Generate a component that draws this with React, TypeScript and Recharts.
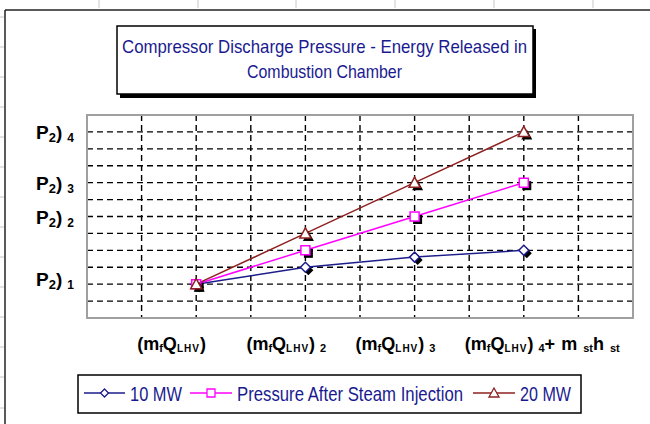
import React from "react";
import {
  LineChart,
  Line,
  XAxis,
  YAxis,
  CartesianGrid,
  ReferenceArea,
} from "recharts";

// ---- data ----
const xPositions = [2, 4, 6, 8];
const series10MW = [2, 3, 3.6, 4];
const seriesSteam = [2, 4, 6, 8];
const series20MW = [2, 5, 8, 11];

const xTickValues = [0, 1, 2, 3, 4, 5, 6, 7, 8, 9, 10];
const yTickValues = [0, 1, 2, 3, 4, 5, 6, 7, 8, 9, 10, 11, 12];

const xLabelSubs = ["", "2", "3", "4"];
const yLabelValues = [2, 6, 8, 11];
const yLabelSubs = ["1", "2", "3", "4"];

const titleLines = [
  "Compressor Discharge Pressure - Energy Released in",
  "Combustion Chamber",
];
const legendNames = ["10 MW", "Pressure After Steam Injection", "20 MW"];

const data = xPositions.map((x, i) => ({
  x,
  a: series10MW[i],
  b: seriesSteam[i],
  c: series20MW[i],
}));

const C_BLUE = "#1c1c8a";
const C_PINK = "#ff00ff";
const C_RED = "#8f2020";
const TEXT_BLUE = "#1a1a90";
const SANS = "'Liberation Sans', Arial, sans-serif";

type Shape = "diamond" | "square" | "triangle";

function shapePath(shape: Shape, cx: number, cy: number, r: number) {
  if (shape === "diamond")
    return `M${cx},${cy - r}L${cx + r},${cy}L${cx},${cy + r}L${cx - r},${cy}Z`;
  if (shape === "square")
    return `M${cx - r},${cy - r}L${cx + r},${cy - r}L${cx + r},${cy + r}L${cx - r},${cy + r}Z`;
  return `M${cx},${cy - r - 1}L${cx + r + 1},${cy + r}L${cx - r - 1},${cy + r}Z`;
}

const makeDot = (shape: Shape, color: string, r: number) => (props: any) => {
  const { cx, cy, index } = props;
  if (cx == null || cy == null) return <g key={index} />;
  return (
    <g key={`${shape}-${index}`}>
      <path d={shapePath(shape, cx + 3, cy + 3, r)} fill="#000" />
      <path d={shapePath(shape, cx, cy, r)} fill="#fff" stroke={color} strokeWidth={1.5} />
    </g>
  );
};

const renderXTick = (props: any) => {
  const { x, y, payload, index } = props;
  const idx = xPositions.indexOf(payload.value);
  if (idx < 0) return <g key={`xt${index}`} />;
  const sub = xLabelSubs[idx];
  return (
    <text
      key={`xt${index}`}
      x={x - 59}
      y={y + 24}
      textAnchor="start"
      fontFamily={SANS}
      fontWeight="bold"
      fontSize={18}
      fill="#000"
    >
      <tspan>(m</tspan>
      <tspan fontSize={11} dy={2}>f</tspan>
      <tspan dy={-2}>Q</tspan>
      <tspan fontSize={10} dy={2} letterSpacing={1}>LHV</tspan>
      <tspan dy={-2}>)</tspan>
      {sub ? (
        <tspan fontSize={11} dx={5} dy={2}>{sub}</tspan>
      ) : null}
      {idx === 3 ? (
        <>
          <tspan dy={-2}>+</tspan>
          <tspan dx={6}>m</tspan>
          <tspan fontSize={11} dx={6} dy={2}>st</tspan>
          <tspan dy={-2}>h</tspan>
          <tspan fontSize={11} dx={6} dy={2}>st</tspan>
        </>
      ) : null}
    </text>
  );
};

const renderYTick = (props: any) => {
  const { x, y, payload, index } = props;
  const idx = yLabelValues.indexOf(payload.value);
  if (idx < 0) return <g key={`yt${index}`} />;
  const shift = idx === 0 ? -5 : 0;
  return (
    <text
      key={`yt${index}`}
      x={x - 5}
      y={y + 7 + shift}
      textAnchor="end"
      fontFamily={SANS}
      fontWeight="bold"
      fontSize={19}
      fill="#000"
    >
      <tspan>P</tspan>
      <tspan fontSize={13} dy={3}>2</tspan>
      <tspan dy={-3}>)</tspan>
      <tspan fontSize={12} dx={5} dy={3}>{yLabelSubs[idx]}</tspan>
    </text>
  );
};

const Overlay = () => {
  const topTicks = [99, 198, 296, 395, 494, 593];
  const leftTicks = [17, 47, 77, 107, 137, 167, 197, 227, 257, 287, 317, 347, 377, 408];
  const legendItems: { shape: Shape; color: string; x1: number; x2: number; tx: number; tw: number }[] = [
    { shape: "diamond", color: C_BLUE, x1: 84, x2: 125, tx: 130, tw: 52 },
    { shape: "square", color: C_PINK, x1: 190, x2: 232, tx: 237, tw: 226 },
    { shape: "triangle", color: C_RED, x1: 473, x2: 515, tx: 520, tw: 51 },
  ];
  return (
    <svg
      width={650}
      height={424}
      style={{ position: "absolute", left: 0, top: 0, pointerEvents: "none" }}
    >
      {topTicks.map((t) => (
        <line key={`t${t}`} x1={t} x2={t} y1={0} y2={8} stroke="#c8c8c8" strokeWidth={1} />
      ))}
      {leftTicks.map((t) => (
        <line key={`l${t}`} x1={0} x2={4} y1={t} y2={t} stroke="#c8c8c8" strokeWidth={1} />
      ))}
      <line x1={5} x2={650} y1={10} y2={10} stroke="#222" strokeWidth={1.5} />
      <line x1={5} x2={5} y1={10} y2={424} stroke="#222" strokeWidth={1.5} />

      {/* title box */}
      <rect x={120} y={29} width={416} height={69} fill="#000" />
      <rect x={117} y={26} width={416} height={68} fill="#fff" stroke="#000" strokeWidth={1.5} />
      <text
        x={122}
        y={53}
        fontFamily={SANS}
        fontSize={18.5}
        fill={TEXT_BLUE}
        textLength={405}
        lengthAdjust="spacingAndGlyphs"
      >
        {titleLines[0]}
      </text>
      <text
        x={247}
        y={78}
        fontFamily={SANS}
        fontSize={18.5}
        fill={TEXT_BLUE}
        textLength={155}
        lengthAdjust="spacingAndGlyphs"
      >
        {titleLines[1]}
      </text>

      {/* legend */}
      <rect x={78} y={375} width={503} height={38} fill="#fff" stroke="#000" strokeWidth={1.5} />
      {legendItems.map((it, i) => (
        <g key={i}>
          <line x1={it.x1} x2={it.x2} y1={393} y2={393} stroke={it.color} strokeWidth={1.5} />
          <path
            d={shapePath(it.shape, (it.x1 + it.x2) / 2, 393, 4)}
            fill="#fff"
            stroke={it.color}
            strokeWidth={1.3}
          />
          <text
            x={it.tx}
            y={401}
            fontFamily={SANS}
            fontSize={21}
            fill={TEXT_BLUE}
            textLength={it.tw}
            lengthAdjust="spacingAndGlyphs"
          >
            {legendNames[i]}
          </text>
        </g>
      ))}
    </svg>
  );
};

export default function App() {
  return (
    <div
      style={{
        position: "absolute",
        left: 0,
        top: 0,
        width: 650,
        height: 424,
        background: "#fff",
        overflow: "hidden",
      }}
    >
      <LineChart
        width={650}
        height={424}
        data={data}
        margin={{ top: 115, right: 17, bottom: 0, left: 0 }}
      >
        <CartesianGrid stroke="#000" strokeDasharray="6 4" strokeWidth={1.4} />
        <XAxis
          dataKey="x"
          type="number"
          domain={[0, 10]}
          ticks={xTickValues}
          interval={0}
          axisLine={false}
          tickLine={false}
          tick={renderXTick}
          height={106}
        />
        <YAxis
          type="number"
          domain={[0, 12]}
          ticks={yTickValues}
          interval={0}
          axisLine={false}
          tickLine={false}
          tick={renderYTick}
          width={87}
        />
        <ReferenceArea
          x1={0}
          x2={10}
          y1={0}
          y2={12}
          fill="none"
          stroke="#a0a0a0"
          strokeWidth={2}
          ifOverflow="visible"
        />
        <Line
          dataKey="a"
          stroke={C_BLUE}
          strokeWidth={1.5}
          isAnimationActive={false}
          dot={makeDot("diamond", C_BLUE, 5)}
          activeDot={false}
        />
        <Line
          dataKey="b"
          stroke={C_PINK}
          strokeWidth={1.5}
          isAnimationActive={false}
          dot={makeDot("square", C_PINK, 4.5)}
          activeDot={false}
        />
        <Line
          dataKey="c"
          stroke={C_RED}
          strokeWidth={1.5}
          isAnimationActive={false}
          dot={makeDot("triangle", C_RED, 4.5)}
          activeDot={false}
        />
      </LineChart>
      <Overlay />
    </div>
  );
}
